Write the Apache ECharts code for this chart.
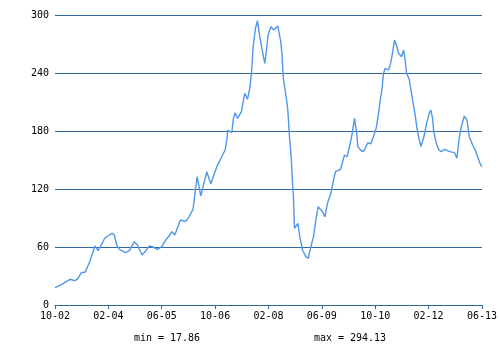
<!DOCTYPE html>
<html>
<head>
<meta charset="utf-8">
<script src="https://cdn.jsdelivr.net/npm/echarts@6/dist/echarts.min.js"></script>
<style>
html, body { margin: 0; padding: 0; background: #fff; }
#main { width: 500px; height: 350px; }
</style>
</head>
<body>
<div id="main"></div>
<script>
// months counted from 2002-10 (0) to 2013-06 (128)
var months = [0, 2, 4.5, 5.9, 6.7, 7.9, 9.1, 10.4, 11.4, 12, 12.9, 13.9, 14.9, 15.8, 17.1, 17.8, 18.5, 19.3,
    21.1, 22.3, 23.8, 24.7, 26.1, 27.2, 28.2, 29.2, 30.7, 32, 33.2, 34.2, 35.1, 35.9, 37.6, 39.1, 40.1, 41.4,
    42.6, 43.7, 45.5, 46.7, 48.5, 50, 51, 51.5, 51.8, 53, 53.5, 54, 54.7, 55.9, 56.5, 56.9, 57.7, 58.4, 58.9,
    59.4, 60.1, 60.7, 61.4, 62.1, 62.9, 63.4, 63.9, 64.7, 65.6, 66.8, 67.6, 68, 68.5, 69.3, 69.8, 70.3, 70.8,
    71.1, 71.5, 71.8, 72.8, 73.4, 74.2, 75.2, 75.9, 76.7, 77.5, 78.2, 78.9, 80.2, 80.9, 81.7, 82.7, 83.5, 84.1,
    85.6, 86.1, 86.8, 87.6, 88.4, 89.1, 89.8, 90.4, 90.8, 91.6, 92.4, 93, 93.8, 94.7, 95.5, 96.3, 97, 97.5, 98,
    98.5, 99, 100, 100.5, 101, 101.8, 102.5, 103, 103.9, 104.5, 104.9, 105.4, 106.2, 106.6, 107.2, 107.9, 108.6,
    109.2, 109.7, 110.6, 111.4, 112.2, 112.7, 113.2, 113.5, 114.3, 115.1, 115.8, 116.8, 118.3, 119.8, 120.5,
    121.1, 121.8, 122.7, 123.5, 124.2, 125.2, 126, 126.7, 127.4, 128];
var values = [17.86, 21.4, 26.6, 25.1, 26.6, 33.4, 34.1, 44.8, 55.1, 61.3, 56.2, 62.1, 69.0, 71.4, 74.2, 72.4, 62.1, 57.6,
    54.1, 56.2, 65.5, 62.1, 51.7, 55.9, 61.0, 60.3, 57.6, 60.3, 67.2, 71.4, 75.8, 72.4, 87.9, 86.2, 90.7, 99.3,
    132.7, 112.8, 137.9, 125.2, 143.1, 153.4, 160.3, 170.7, 181.0, 178.2, 193.1, 198.9, 193.1, 200.0, 212.1, 219.0, 212.8, 224.2, 239.7,
    267.2, 286.2, 294.13, 277.6, 263.8, 250.0, 263.8, 279.3, 287.9, 284.5, 288.6, 274.1, 262.0, 232.8, 215.5, 201.7, 174.1, 153.4,
    132.7, 110.4, 79.3, 84.5, 70.7, 56.9, 50.0, 48.3, 60.3, 70.7, 87.9, 101.7, 96.5, 91.3, 105.2, 115.6, 129.3, 137.9,
    140.4, 146.6, 155.2, 153.4, 165.5, 177.6, 193.1, 179.3, 163.8, 160.3, 158.6, 162.1, 167.9, 166.6, 174.8, 182.8, 198.3, 212.1, 222.4,
    239.7, 244.9, 243.1, 248.3, 256.9, 274.1, 267.2, 260.4, 256.9, 263.8, 255.2, 239.7, 233.5, 232.8, 212.1, 198.3, 181.0,
    170.7, 163.8, 174.1, 188.0, 198.3, 201.7, 193.1, 181.0, 167.3, 160.3, 158.6, 161.1, 158.6, 157.6, 151.8,
    170.7, 184.4, 195.5, 191.4, 174.1, 165.5, 160.3, 153.4, 146.6, 143.1, 142.0];
var yTicks = [0, 60, 120, 180, 240, 300];

var font = '"DejaVu Sans Mono", monospace';
var gridColor = '#336699';

function monthLabel(v) {
    var t = 9 + Math.round(v);
    var mm = t % 12 + 1;
    var yy = (2002 + Math.floor(t / 12)) % 100;
    return (mm < 10 ? '0' : '') + mm + '-' + (yy < 10 ? '0' : '') + yy;
}

var minVal = Math.min.apply(null, values);
var maxVal = Math.max.apply(null, values);

var chart = echarts.init(document.getElementById('main'), null, { renderer: 'canvas' });
chart.setOption({
    animation: false,
    backgroundColor: '#fff',
    grid: { left: 55, right: 14, top: 15, bottom: 45 },
    xAxis: {
        type: 'value',
        min: 0,
        max: 128,
        interval: 16,
        axisLine: { show: true, lineStyle: { color: gridColor, width: 1 } },
        axisTick: { show: true, length: 4, inside: false, lineStyle: { color: gridColor } },
        splitLine: { show: false },
        axisLabel: {
            color: '#000', fontFamily: font, fontSize: 10, margin: 6,
            formatter: monthLabel
        }
    },
    yAxis: {
        type: 'value',
        min: yTicks[0],
        max: yTicks[yTicks.length - 1],
        interval: 60,
        axisLine: { show: false },
        axisTick: { show: false },
        splitLine: { show: true, lineStyle: { color: gridColor, width: 1 } },
        axisLabel: { color: '#000', fontFamily: font, fontSize: 10, margin: 6 }
    },
    series: [{
        type: 'line',
        data: months.map(function (m, i) { return [m, values[i]]; }),
        showSymbol: false,
        lineStyle: { color: '#4f97ea', width: 1.4 },
        itemStyle: { color: '#4f97ea' }
    }],
    graphic: [
        { type: 'text', x: 167, y: 338, style: { text: 'min = ' + minVal.toFixed(2), fill: '#000', font: '10px ' + font, textAlign: 'center', textVerticalAlign: 'middle' } },
        { type: 'text', x: 350, y: 338, style: { text: 'max = ' + maxVal.toFixed(2), fill: '#000', font: '10px ' + font, textAlign: 'center', textVerticalAlign: 'middle' } }
    ]
});
</script>
</body>
</html>
